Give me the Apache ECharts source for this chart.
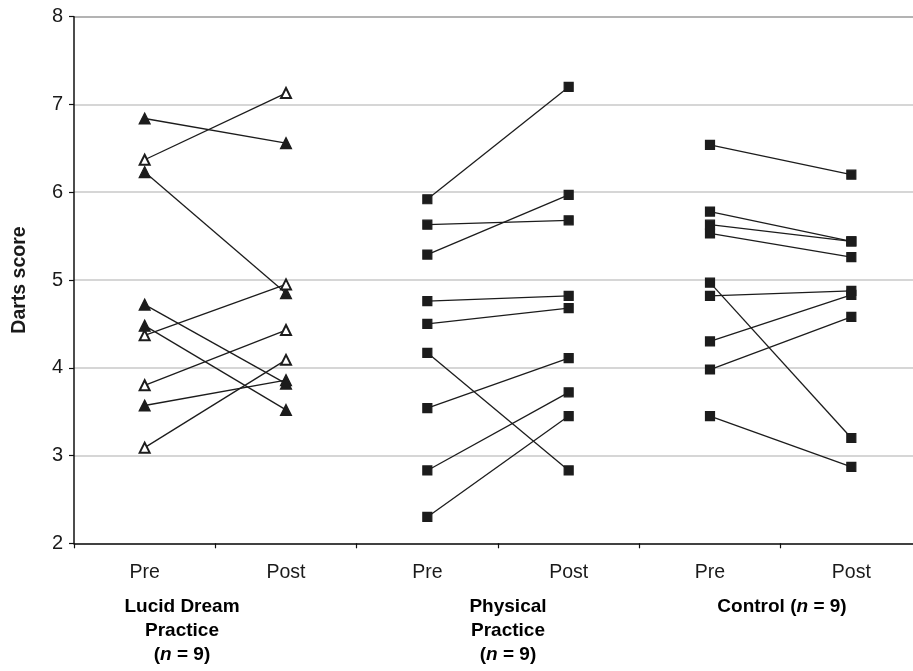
<!DOCTYPE html>
<html>
<head>
<meta charset="utf-8">
<script src="https://cdn.jsdelivr.net/npm/echarts@6/dist/echarts.min.js"></script>
<style>
html,body{margin:0;padding:0;background:#fff;}
#chart{width:913px;height:671px;}
</style>
</head>
<body>
<div id="chart"></div>
<script>
const categories = ['Pre', 'Post', 'Pre', 'Post', 'Pre', 'Post'];
const yTicks = [2, 3, 4, 5, 6, 7, 8];

// Lucid Dream Practice (filled vs open triangle per participant)
const lucidPre = [6.84, 6.37, 6.23, 4.72, 4.48, 4.37, 3.80, 3.57, 3.09];
const lucidPost = [6.56, 7.13, 4.85, 3.82, 3.52, 4.95, 4.43, 3.86, 4.09];
const lucidFilled = [true, false, true, true, true, false, false, true, false];

// Physical Practice
const physPre = [5.92, 5.63, 5.29, 4.76, 4.50, 4.17, 3.54, 2.83, 2.30];
const physPost = [7.20, 5.68, 5.97, 4.82, 4.68, 2.83, 4.11, 3.72, 3.45];

// Control
const ctrlPre = [6.54, 5.78, 5.63, 5.53, 4.97, 4.82, 4.30, 3.98, 3.45];
const ctrlPost = [6.20, 5.44, 5.44, 5.26, 3.20, 4.875, 4.83, 4.58, 2.87];

const FONT = "'Liberation Sans', Arial, Helvetica, sans-serif";
const INK = '#1c1c1c';

function makeSeries(pre, post, groupIdx, symbolFn, sizeFn) {
  return pre.map((p, i) => {
    const data = categories.map(() => '-');
    data[groupIdx * 2] = p;
    data[groupIdx * 2 + 1] = post[i];
    return {
      type: 'line',
      data: data,
      symbol: symbolFn(i),
      symbolSize: sizeFn(i),
      showAllSymbol: true,
      connectNulls: false,
      animation: false,
      lineStyle: { color: INK, width: 1.3 },
      itemStyle: { color: INK, borderColor: INK, borderWidth: 1.2 },
      emphasis: { disabled: true },
      z: 3
    };
  });
}

const series = [].concat(
  makeSeries(lucidPre, lucidPost, 0, i => lucidFilled[i] ? 'triangle' : 'emptyTriangle', i => lucidFilled[i] ? 11 : 10),
  makeSeries(physPre, physPost, 1, () => 'rect', () => 9),
  makeSeries(ctrlPre, ctrlPost, 2, () => 'rect', () => 9)
);

const groupTexts = [
  { x: 182, text: '{b|Lucid Dream}\n{b|Practice}\n{b|(}{i|n}{b| = 9)}' },
  { x: 508, text: '{b|Physical}\n{b|Practice}\n{b|(}{i|n}{b| = 9)}' },
  { x: 782, text: '{b|Control (}{i|n}{b| = 9)}' }
];

const rich = {
  b: { fontFamily: FONT, fontSize: 19, fontWeight: 'bold', color: '#1a1a1a', lineHeight: 24 },
  i: { fontFamily: FONT, fontSize: 19, fontWeight: 'bold', fontStyle: 'italic', color: '#1a1a1a', lineHeight: 24 }
};

const chart = echarts.init(document.getElementById('chart'), null, { renderer: 'canvas' });
chart.setOption({
  backgroundColor: '#ffffff',
  animation: false,
  grid: { left: 74, top: 16.7, width: 848, height: 526.6, containLabel: false, outerBoundsMode: 'none' },
  xAxis: {
    type: 'category',
    data: categories,
    boundaryGap: true,
    axisLine: { show: true, lineStyle: { color: '#111', width: 1.5 } },
    axisTick: { show: true, length: 5, inside: false, alignWithLabel: false, lineStyle: { color: '#111', width: 1.2 } },
    axisLabel: { show: true, margin: 19, fontFamily: FONT, fontSize: 19.5, color: '#1a1a1a', interval: 0 },
    splitLine: { show: false }
  },
  yAxis: {
    type: 'value',
    min: 2,
    max: 8,
    interval: 1,
    name: 'Darts score',
    nameLocation: 'middle',
    nameRotate: 90,
    nameGap: 44,
    nameTextStyle: { fontFamily: FONT, fontSize: 19.5, fontWeight: 'bold', color: '#1a1a1a' },
    axisLine: { show: true, lineStyle: { color: '#111', width: 1.5 } },
    axisTick: { show: true, length: 5, inside: false, lineStyle: { color: '#111', width: 1.2 } },
    axisLabel: {
      margin: 11, fontFamily: FONT, fontSize: 20, color: '#1a1a1a',
      formatter: v => yTicks.includes(v) ? String(v) : ''
    },
    splitLine: { show: true, lineStyle: { color: ['#c8c8c8', '#c8c8c8', '#c8c8c8', '#c8c8c8', '#c8c8c8', '#c8c8c8', '#9a9a9a'], width: 1.5 } }
  },
  graphic: groupTexts.map(g => ({
    type: 'text',
    x: g.x,
    y: 595,
    silent: true,
    style: {
      text: g.text,
      rich: rich,
      align: 'center',
      verticalAlign: 'top',
      textAlign: 'center',
      textVerticalAlign: 'top'
    }
  })),
  series: series
});
</script>
</body>
</html>
